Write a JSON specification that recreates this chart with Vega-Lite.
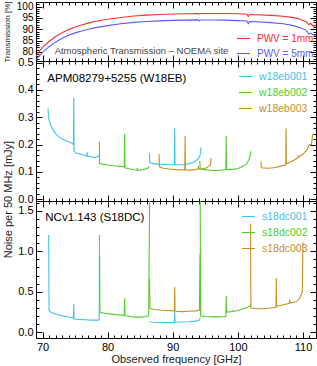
{
  "$schema": "https://vega.github.io/schema/vega-lite/v6.json",
  "padding": {"left": 1, "top": 0, "right": 0, "bottom": 0},
  "spacing": 0,
  "bounds": "flush",
  "config": {
    "font": "Liberation Sans",
    "view": {"stroke": "black", "strokeWidth": 1},
    "scale": {"zero": false},
    "axis": {"labelFont": "Liberation Sans", "labelColor": "black", "titleFont": "Liberation Sans", "titleFontWeight": "normal", "titleColor": "#222", "tickColor": "black", "labelOverlap": false, "labelBound": false, "labelFlush": false, "grid": false, "domain": false},
    "legend": {"symbolType": "stroke", "symbolStrokeWidth": 1.2, "symbolSize": 169, "labelFont": "Liberation Sans", "labelOffset": 6, "padding": 0, "rowPadding": 3, "title": null,
      "labelColor": {"expr": "indexof(['w18eb001','s18dc001'], datum.label) >= 0 ? '#3ec3ef' : indexof(['w18eb002','s18dc002'], datum.label) >= 0 ? '#4bd12a' : indexof(['w18eb003','s18dc003'], datum.label) >= 0 ? '#c8901f' : datum.label == 'PWV = 1mm' ? '#ff2d2d' : '#5a5aff'"}},
    "line": {"strokeWidth": 1.1, "clip": true}
  },
  "resolve": {"scale": {"x": "independent", "y": "independent", "color": "independent"}, "legend": {"color": "independent"}},
  "vconcat": [
    {
      "width": 280, "height": 59,
      "data": {"values": [
        {"f": 69.0, "v": 78.0, "s": "PWV = 1mm"}, {"f": 69.5, "v": 80.3, "s": "PWV = 1mm"}, {"f": 70, "v": 82.0, "s": "PWV = 1mm"}, {"f": 71, "v": 84.6, "s": "PWV = 1mm"}, {"f": 72, "v": 86.8, "s": "PWV = 1mm"}, {"f": 73, "v": 88.5, "s": "PWV = 1mm"}, {"f": 74, "v": 89.9, "s": "PWV = 1mm"}, {"f": 75, "v": 91.0, "s": "PWV = 1mm"}, {"f": 76, "v": 91.9, "s": "PWV = 1mm"}, {"f": 77, "v": 92.7, "s": "PWV = 1mm"}, {"f": 78, "v": 93.4, "s": "PWV = 1mm"}, {"f": 80, "v": 94.4, "s": "PWV = 1mm"}, {"f": 82, "v": 95.2, "s": "PWV = 1mm"}, {"f": 84, "v": 95.8, "s": "PWV = 1mm"}, {"f": 86, "v": 96.2, "s": "PWV = 1mm"}, {"f": 88, "v": 96.5, "s": "PWV = 1mm"}, {"f": 90, "v": 96.7, "s": "PWV = 1mm"}, {"f": 92, "v": 96.8, "s": "PWV = 1mm"}, {"f": 93.9, "v": 96.9, "s": "PWV = 1mm"}, {"f": 94.1, "v": 96.6, "s": "PWV = 1mm"}, {"f": 94.3, "v": 96.9, "s": "PWV = 1mm"}, {"f": 96, "v": 96.9, "s": "PWV = 1mm"}, {"f": 98, "v": 96.9, "s": "PWV = 1mm"}, {"f": 100, "v": 96.8, "s": "PWV = 1mm"}, {"f": 101.4, "v": 96.6, "s": "PWV = 1mm"}, {"f": 101.6, "v": 95.6, "s": "PWV = 1mm"}, {"f": 101.8, "v": 96.5, "s": "PWV = 1mm"}, {"f": 103, "v": 96.4, "s": "PWV = 1mm"}, {"f": 105, "v": 96.1, "s": "PWV = 1mm"}, {"f": 107, "v": 95.7, "s": "PWV = 1mm"}, {"f": 108.5, "v": 95.1, "s": "PWV = 1mm"}, {"f": 109.5, "v": 94.5, "s": "PWV = 1mm"}, {"f": 110.5, "v": 93.3, "s": "PWV = 1mm"}, {"f": 110.9, "v": 92.0, "s": "PWV = 1mm"}, {"f": 111.2, "v": 92.6, "s": "PWV = 1mm"}, {"f": 111.5, "v": 91.5, "s": "PWV = 1mm"}, {"f": 112, "v": 91.5, "s": "PWV = 1mm"},
        {"f": 69.0, "v": 76.5, "s": "PWV = 5mm"}, {"f": 69.5, "v": 78.3, "s": "PWV = 5mm"}, {"f": 70, "v": 79.8, "s": "PWV = 5mm"}, {"f": 71, "v": 82.3, "s": "PWV = 5mm"}, {"f": 72, "v": 84.3, "s": "PWV = 5mm"}, {"f": 73, "v": 86.0, "s": "PWV = 5mm"}, {"f": 74, "v": 87.3, "s": "PWV = 5mm"}, {"f": 75, "v": 88.4, "s": "PWV = 5mm"}, {"f": 76, "v": 89.2, "s": "PWV = 5mm"}, {"f": 77, "v": 90.0, "s": "PWV = 5mm"}, {"f": 78, "v": 90.6, "s": "PWV = 5mm"}, {"f": 80, "v": 91.6, "s": "PWV = 5mm"}, {"f": 82, "v": 92.4, "s": "PWV = 5mm"}, {"f": 84, "v": 93.0, "s": "PWV = 5mm"}, {"f": 86, "v": 93.4, "s": "PWV = 5mm"}, {"f": 88, "v": 93.7, "s": "PWV = 5mm"}, {"f": 90, "v": 93.9, "s": "PWV = 5mm"}, {"f": 92, "v": 94.0, "s": "PWV = 5mm"}, {"f": 93.9, "v": 94.1, "s": "PWV = 5mm"}, {"f": 94.1, "v": 93.7, "s": "PWV = 5mm"}, {"f": 94.3, "v": 94.1, "s": "PWV = 5mm"}, {"f": 96, "v": 94.1, "s": "PWV = 5mm"}, {"f": 98, "v": 94.0, "s": "PWV = 5mm"}, {"f": 100, "v": 93.8, "s": "PWV = 5mm"}, {"f": 101.4, "v": 93.6, "s": "PWV = 5mm"}, {"f": 101.6, "v": 92.5, "s": "PWV = 5mm"}, {"f": 101.8, "v": 93.4, "s": "PWV = 5mm"}, {"f": 103, "v": 93.3, "s": "PWV = 5mm"}, {"f": 105, "v": 92.9, "s": "PWV = 5mm"}, {"f": 107, "v": 92.4, "s": "PWV = 5mm"}, {"f": 108.5, "v": 91.6, "s": "PWV = 5mm"}, {"f": 109.5, "v": 90.8, "s": "PWV = 5mm"}, {"f": 110.5, "v": 89.5, "s": "PWV = 5mm"}, {"f": 110.9, "v": 87.8, "s": "PWV = 5mm"}, {"f": 111.2, "v": 88.3, "s": "PWV = 5mm"}, {"f": 111.5, "v": 87.6, "s": "PWV = 5mm"}, {"f": 112, "v": 87.3, "s": "PWV = 5mm"}
      ]},
      "resolve": {"axis": {"x": "independent", "y": "independent"}},
      "layer": [
        {"mark": {"type": "line"},
         "encoding": {
          "x": {"field": "f", "type": "quantitative", "scale": {"domain": [69, 112], "nice": false}, "axis": null},
          "y": {"field": "v", "type": "quantitative", "scale": {"domain": [76, 102], "nice": false}, "axis": {"values": [80, 85, 90, 95, 100], "ticks": false, "labelFontSize": 10, "labelPadding": 3, "title": "Transmission [%]", "titleFontSize": 8, "titleX": -25, "titleY": 29.5}},
          "color": {"field": "s", "type": "nominal", "scale": {"domain": ["PWV = 1mm", "PWV = 5mm"], "range": ["#ff2d2d", "#5a5aff"]}, "legend": {"orient": "bottom-right", "offset": 2, "labelFontSize": 10, "rowPadding": 2}}
         }},
        {"data": {"values": [{}]},
         "mark": {"type": "text", "align": "center", "baseline": "middle", "fontSize": 9.5, "color": "#444"},
         "encoding": {"x": {"datum": 85.2, "type": "quantitative", "axis": null}, "y": {"datum": 80.3, "type": "quantitative", "axis": null}, "text": {"value": "Atmospheric Transmission – NOEMA site"}}},
        {"mark": {"type": "point", "opacity": 0},
         "encoding": {"x": {"field": "f", "type": "quantitative", "axis": {"orient": "bottom", "values": [70, 80, 90, 100, 110], "labels": false, "tickSize": 6, "offset": -6, "title": null}},
                      "y": {"field": "v", "type": "quantitative", "axis": {"orient": "left", "values": [80, 85, 90, 95, 100], "labels": false, "tickSize": 6, "offset": -6, "title": null}}}},
        {"mark": {"type": "point", "opacity": 0},
         "encoding": {"x": {"field": "f", "type": "quantitative", "axis": {"orient": "top", "values": [70, 80, 90, 100, 110], "labels": false, "tickSize": 6, "offset": -6, "title": null}},
                      "y": {"field": "v", "type": "quantitative", "axis": {"orient": "right", "values": [80, 85, 90, 95, 100], "labels": false, "tickSize": 6, "offset": -6, "title": null}}}},
        {"mark": {"type": "point", "opacity": 0},
         "encoding": {"x": {"field": "f", "type": "quantitative", "axis": {"orient": "bottom", "values": [69,70,71,72,73,74,75,76,77,78,79,80,81,82,83,84,85,86,87,88,89,90,91,92,93,94,95,96,97,98,99,100,101,102,103,104,105,106,107,108,109,110,111,112], "labels": false, "tickSize": 3, "offset": -3, "title": null}},
                      "y": {"field": "v", "type": "quantitative", "axis": {"orient": "left", "values": [76,77,78,79,80,81,82,83,84,85,86,87,88,89,90,91,92,93,94,95,96,97,98,99,100,101,102], "labels": false, "tickSize": 3, "offset": -3, "title": null}}}},
        {"mark": {"type": "point", "opacity": 0},
         "encoding": {"x": {"field": "f", "type": "quantitative", "axis": {"orient": "top", "values": [69,70,71,72,73,74,75,76,77,78,79,80,81,82,83,84,85,86,87,88,89,90,91,92,93,94,95,96,97,98,99,100,101,102,103,104,105,106,107,108,109,110,111,112], "labels": false, "tickSize": 3, "offset": -3, "title": null}},
                      "y": {"field": "v", "type": "quantitative", "axis": {"orient": "right", "values": [76,77,78,79,80,81,82,83,84,85,86,87,88,89,90,91,92,93,94,95,96,97,98,99,100,101,102], "labels": false, "tickSize": 3, "offset": -3, "title": null}}}}
      ]
    },
    {
      "width": 280, "height": 140,
      "data": {"values": [
        {"f": 70.85, "v": 0.333, "s": "w18eb001", "g": "1a"}, {"f": 70.9, "v": 0.31, "s": "w18eb001", "g": "1a"}, {"f": 71.0, "v": 0.29, "s": "w18eb001", "g": "1a"}, {"f": 71.2, "v": 0.275, "s": "w18eb001", "g": "1a"}, {"f": 71.5, "v": 0.26, "s": "w18eb001", "g": "1a"}, {"f": 72.0, "v": 0.24, "s": "w18eb001", "g": "1a"}, {"f": 72.5, "v": 0.228, "s": "w18eb001", "g": "1a"}, {"f": 73.0, "v": 0.22, "s": "w18eb001", "g": "1a"}, {"f": 73.5, "v": 0.215, "s": "w18eb001", "g": "1a"}, {"f": 74.0, "v": 0.21, "s": "w18eb001", "g": "1a"}, {"f": 74.5, "v": 0.205, "s": "w18eb001", "g": "1a"}, {"f": 74.75, "v": 0.2, "s": "w18eb001", "g": "1a"}, {"f": 74.8, "v": 0.37, "s": "w18eb001", "g": "1a"}, {"f": 74.85, "v": 0.175, "s": "w18eb001", "g": "1a"}, {"f": 75.2, "v": 0.168, "s": "w18eb001", "g": "1a"}, {"f": 75.8, "v": 0.165, "s": "w18eb001", "g": "1a"}, {"f": 76.5, "v": 0.16, "s": "w18eb001", "g": "1a"}, {"f": 76.8, "v": 0.158, "s": "w18eb001", "g": "1a"}, {"f": 76.85, "v": 0.172, "s": "w18eb001", "g": "1a"}, {"f": 76.9, "v": 0.158, "s": "w18eb001", "g": "1a"}, {"f": 77.5, "v": 0.155, "s": "w18eb001", "g": "1a"}, {"f": 78.0, "v": 0.152, "s": "w18eb001", "g": "1a"}, {"f": 78.4, "v": 0.155, "s": "w18eb001", "g": "1a"}, {"f": 78.7, "v": 0.16, "s": "w18eb001", "g": "1a"},
        {"f": 78.72, "v": 0.21, "s": "w18eb002", "g": "2a"}, {"f": 78.77, "v": 0.13, "s": "w18eb002", "g": "2a"}, {"f": 79.2, "v": 0.128, "s": "w18eb002", "g": "2a"}, {"f": 80.0, "v": 0.125, "s": "w18eb002", "g": "2a"}, {"f": 81.0, "v": 0.122, "s": "w18eb002", "g": "2a"}, {"f": 82.0, "v": 0.12, "s": "w18eb002", "g": "2a"}, {"f": 82.55, "v": 0.118, "s": "w18eb002", "g": "2a"}, {"f": 82.6, "v": 0.238, "s": "w18eb002", "g": "2a"}, {"f": 82.65, "v": 0.115, "s": "w18eb002", "g": "2a"}, {"f": 83.5, "v": 0.11, "s": "w18eb002", "g": "2a"}, {"f": 84.5, "v": 0.105, "s": "w18eb002", "g": "2a"}, {"f": 84.55, "v": 0.115, "s": "w18eb002", "g": "2a"}, {"f": 84.6, "v": 0.105, "s": "w18eb002", "g": "2a"}, {"f": 85.5, "v": 0.108, "s": "w18eb002", "g": "2a"}, {"f": 86.3, "v": 0.115, "s": "w18eb002", "g": "2a"}, {"f": 86.4, "v": 0.12, "s": "w18eb002", "g": "2a"},
        {"f": 86.42, "v": 0.17, "s": "w18eb001", "g": "1b"}, {"f": 86.47, "v": 0.135, "s": "w18eb001", "g": "1b"}, {"f": 87.0, "v": 0.13, "s": "w18eb001", "g": "1b"}, {"f": 88.0, "v": 0.128, "s": "w18eb001", "g": "1b"}, {"f": 89.0, "v": 0.127, "s": "w18eb001", "g": "1b"}, {"f": 90.25, "v": 0.125, "s": "w18eb001", "g": "1b"}, {"f": 90.3, "v": 0.26, "s": "w18eb001", "g": "1b"}, {"f": 90.35, "v": 0.127, "s": "w18eb001", "g": "1b"}, {"f": 91.5, "v": 0.126, "s": "w18eb001", "g": "1b"}, {"f": 92.5, "v": 0.13, "s": "w18eb001", "g": "1b"}, {"f": 93.2, "v": 0.135, "s": "w18eb001", "g": "1b"}, {"f": 93.8, "v": 0.145, "s": "w18eb001", "g": "1b"}, {"f": 94.2, "v": 0.16, "s": "w18eb001", "g": "1b"}, {"f": 94.35, "v": 0.19, "s": "w18eb001", "g": "1b"},
        {"f": 87.9, "v": 0.165, "s": "w18eb003", "g": "3a"}, {"f": 87.95, "v": 0.118, "s": "w18eb003", "g": "3a"}, {"f": 88.5, "v": 0.113, "s": "w18eb003", "g": "3a"}, {"f": 89.5, "v": 0.11, "s": "w18eb003", "g": "3a"}, {"f": 90.5, "v": 0.108, "s": "w18eb003", "g": "3a"}, {"f": 91.85, "v": 0.107, "s": "w18eb003", "g": "3a"}, {"f": 91.9, "v": 0.232, "s": "w18eb003", "g": "3a"}, {"f": 91.95, "v": 0.107, "s": "w18eb003", "g": "3a"}, {"f": 92.5, "v": 0.106, "s": "w18eb003", "g": "3a"}, {"f": 93.5, "v": 0.108, "s": "w18eb003", "g": "3a"}, {"f": 93.9, "v": 0.11, "s": "w18eb003", "g": "3a"}, {"f": 93.95, "v": 0.122, "s": "w18eb003", "g": "3a"}, {"f": 94.0, "v": 0.11, "s": "w18eb003", "g": "3a"}, {"f": 94.5, "v": 0.11, "s": "w18eb003", "g": "3a"}, {"f": 95.2, "v": 0.115, "s": "w18eb003", "g": "3a"}, {"f": 95.5, "v": 0.12, "s": "w18eb003", "g": "3a"}, {"f": 95.8, "v": 0.125, "s": "w18eb003", "g": "3a"}, {"f": 95.9, "v": 0.15, "s": "w18eb003", "g": "3a"},
        {"f": 94.15, "v": 0.14, "s": "w18eb002", "g": "2b"}, {"f": 94.22, "v": 0.11, "s": "w18eb002", "g": "2b"}, {"f": 95.0, "v": 0.108, "s": "w18eb002", "g": "2b"}, {"f": 96.0, "v": 0.105, "s": "w18eb002", "g": "2b"}, {"f": 97.0, "v": 0.105, "s": "w18eb002", "g": "2b"}, {"f": 98.15, "v": 0.108, "s": "w18eb002", "g": "2b"}, {"f": 98.2, "v": 0.232, "s": "w18eb002", "g": "2b"}, {"f": 98.25, "v": 0.108, "s": "w18eb002", "g": "2b"}, {"f": 99.0, "v": 0.108, "s": "w18eb002", "g": "2b"}, {"f": 100.0, "v": 0.112, "s": "w18eb002", "g": "2b"}, {"f": 100.8, "v": 0.12, "s": "w18eb002", "g": "2b"}, {"f": 101.4, "v": 0.13, "s": "w18eb002", "g": "2b"}, {"f": 101.8, "v": 0.15, "s": "w18eb002", "g": "2b"}, {"f": 102.0, "v": 0.175, "s": "w18eb002", "g": "2b"},
        {"f": 103.55, "v": 0.138, "s": "w18eb003", "g": "3b"}, {"f": 103.6, "v": 0.115, "s": "w18eb003", "g": "3b"}, {"f": 104.5, "v": 0.113, "s": "w18eb003", "g": "3b"}, {"f": 105.5, "v": 0.115, "s": "w18eb003", "g": "3b"}, {"f": 106.5, "v": 0.12, "s": "w18eb003", "g": "3b"}, {"f": 107.35, "v": 0.125, "s": "w18eb003", "g": "3b"}, {"f": 107.4, "v": 0.259, "s": "w18eb003", "g": "3b"}, {"f": 107.45, "v": 0.13, "s": "w18eb003", "g": "3b"}, {"f": 108.0, "v": 0.135, "s": "w18eb003", "g": "3b"}, {"f": 108.8, "v": 0.145, "s": "w18eb003", "g": "3b"}, {"f": 109.3, "v": 0.153, "s": "w18eb003", "g": "3b"}, {"f": 109.35, "v": 0.16, "s": "w18eb003", "g": "3b"}, {"f": 109.4, "v": 0.155, "s": "w18eb003", "g": "3b"}, {"f": 110.0, "v": 0.165, "s": "w18eb003", "g": "3b"}, {"f": 110.6, "v": 0.18, "s": "w18eb003", "g": "3b"}, {"f": 111.0, "v": 0.2, "s": "w18eb003", "g": "3b"}, {"f": 111.3, "v": 0.2, "s": "w18eb003", "g": "3b"}, {"f": 111.5, "v": 0.238, "s": "w18eb003", "g": "3b"}
      ]},
      "resolve": {"axis": {"x": "independent", "y": "independent"}},
      "layer": [
        {"mark": {"type": "line"},
         "encoding": {
          "x": {"field": "f", "type": "quantitative", "scale": {"domain": [69, 112], "nice": false}, "axis": null},
          "y": {"field": "v", "type": "quantitative", "scale": {"domain": [-0.007, 0.506], "nice": false}, "axis": {"values": [0, 0.1, 0.2, 0.3, 0.4, 0.5], "format": ".1f", "ticks": false, "labelFontSize": 11, "labelPadding": 3, "title": "Noise per 50 MHz [mJy]", "titleFontSize": 11, "titleX": -23, "titleY": 138}},
          "color": {"field": "s", "type": "nominal", "scale": {"domain": ["w18eb001", "w18eb002", "w18eb003"], "range": ["#3ec3ef", "#4bd12a", "#c8901f"]}, "legend": {"orient": "top-right", "offset": 8, "labelFontSize": 10.5}},
          "detail": {"field": "g", "type": "nominal"}
         }},
        {"data": {"values": [{}]},
         "mark": {"type": "text", "align": "left", "baseline": "middle", "fontSize": 11.5, "color": "black"},
         "encoding": {"x": {"datum": 70.74, "type": "quantitative", "axis": null}, "y": {"datum": 0.44, "type": "quantitative", "axis": null}, "text": {"value": "APM08279+5255 (W18EB)"}}},
        {"mark": {"type": "point", "opacity": 0},
         "encoding": {"x": {"field": "f", "type": "quantitative", "axis": {"orient": "bottom", "values": [70, 80, 90, 100, 110], "labels": false, "tickSize": 6, "offset": -6, "title": null}},
                      "y": {"field": "v", "type": "quantitative", "axis": {"orient": "left", "values": [0, 0.1, 0.2, 0.3, 0.4, 0.5], "labels": false, "tickSize": 6, "offset": -6, "title": null}}}},
        {"mark": {"type": "point", "opacity": 0},
         "encoding": {"x": {"field": "f", "type": "quantitative", "axis": {"orient": "top", "values": [70, 80, 90, 100, 110], "labels": false, "tickSize": 6, "offset": -6, "title": null}},
                      "y": {"field": "v", "type": "quantitative", "axis": {"orient": "right", "values": [0, 0.1, 0.2, 0.3, 0.4, 0.5], "labels": false, "tickSize": 6, "offset": -6, "title": null}}}},
        {"mark": {"type": "point", "opacity": 0},
         "encoding": {"x": {"field": "f", "type": "quantitative", "axis": {"orient": "bottom", "values": [69,70,71,72,73,74,75,76,77,78,79,80,81,82,83,84,85,86,87,88,89,90,91,92,93,94,95,96,97,98,99,100,101,102,103,104,105,106,107,108,109,110,111,112], "labels": false, "tickSize": 3, "offset": -3, "title": null}},
                      "y": {"field": "v", "type": "quantitative", "axis": {"orient": "left", "values": [0,0.02,0.04,0.06,0.08,0.1,0.12,0.14,0.16,0.18,0.2,0.22,0.24,0.26,0.28,0.3,0.32,0.34,0.36,0.38,0.4,0.42,0.44,0.46,0.48,0.5], "labels": false, "tickSize": 3, "offset": -3, "title": null}}}},
        {"mark": {"type": "point", "opacity": 0},
         "encoding": {"x": {"field": "f", "type": "quantitative", "axis": {"orient": "top", "values": [69,70,71,72,73,74,75,76,77,78,79,80,81,82,83,84,85,86,87,88,89,90,91,92,93,94,95,96,97,98,99,100,101,102,103,104,105,106,107,108,109,110,111,112], "labels": false, "tickSize": 3, "offset": -3, "title": null}},
                      "y": {"field": "v", "type": "quantitative", "axis": {"orient": "right", "values": [0,0.02,0.04,0.06,0.08,0.1,0.12,0.14,0.16,0.18,0.2,0.22,0.24,0.26,0.28,0.3,0.32,0.34,0.36,0.38,0.4,0.42,0.44,0.46,0.48,0.5], "labels": false, "tickSize": 3, "offset": -3, "title": null}}}}
      ]
    },
    {
      "width": 280, "height": 137,
      "data": {"values": [
        {"f": 70.95, "v": 1.2, "s": "s18dc001", "g": "1a"}, {"f": 71.0, "v": 0.27, "s": "s18dc001", "g": "1a"}, {"f": 71.3, "v": 0.245, "s": "s18dc001", "g": "1a"}, {"f": 72.0, "v": 0.225, "s": "s18dc001", "g": "1a"}, {"f": 73.0, "v": 0.205, "s": "s18dc001", "g": "1a"}, {"f": 74.0, "v": 0.19, "s": "s18dc001", "g": "1a"}, {"f": 74.75, "v": 0.18, "s": "s18dc001", "g": "1a"}, {"f": 74.8, "v": 0.35, "s": "s18dc001", "g": "1a"}, {"f": 74.85, "v": 0.165, "s": "s18dc001", "g": "1a"}, {"f": 75.5, "v": 0.16, "s": "s18dc001", "g": "1a"}, {"f": 76.5, "v": 0.155, "s": "s18dc001", "g": "1a"}, {"f": 77.5, "v": 0.15, "s": "s18dc001", "g": "1a"}, {"f": 78.5, "v": 0.15, "s": "s18dc001", "g": "1a"}, {"f": 78.7, "v": 0.155, "s": "s18dc001", "g": "1a"}, {"f": 78.75, "v": 1.2, "s": "s18dc001", "g": "1a"},
        {"f": 78.77, "v": 0.95, "s": "s18dc002", "g": "2a"}, {"f": 78.82, "v": 0.25, "s": "s18dc002", "g": "2a"}, {"f": 79.5, "v": 0.235, "s": "s18dc002", "g": "2a"}, {"f": 80.5, "v": 0.225, "s": "s18dc002", "g": "2a"}, {"f": 81.5, "v": 0.215, "s": "s18dc002", "g": "2a"}, {"f": 82.55, "v": 0.21, "s": "s18dc002", "g": "2a"}, {"f": 82.6, "v": 0.42, "s": "s18dc002", "g": "2a"}, {"f": 82.65, "v": 0.205, "s": "s18dc002", "g": "2a"}, {"f": 83.5, "v": 0.195, "s": "s18dc002", "g": "2a"}, {"f": 84.5, "v": 0.185, "s": "s18dc002", "g": "2a"}, {"f": 85.5, "v": 0.19, "s": "s18dc002", "g": "2a"}, {"f": 86.3, "v": 0.205, "s": "s18dc002", "g": "2a"}, {"f": 86.45, "v": 1.62, "s": "s18dc002", "g": "2a"},
        {"f": 86.47, "v": 0.13, "s": "s18dc001", "g": "1b"}, {"f": 87.0, "v": 0.125, "s": "s18dc001", "g": "1b"}, {"f": 88.0, "v": 0.122, "s": "s18dc001", "g": "1b"}, {"f": 89.0, "v": 0.12, "s": "s18dc001", "g": "1b"}, {"f": 90.25, "v": 0.12, "s": "s18dc001", "g": "1b"}, {"f": 90.3, "v": 0.26, "s": "s18dc001", "g": "1b"}, {"f": 90.35, "v": 0.125, "s": "s18dc001", "g": "1b"}, {"f": 91.5, "v": 0.128, "s": "s18dc001", "g": "1b"}, {"f": 92.5, "v": 0.13, "s": "s18dc001", "g": "1b"}, {"f": 93.5, "v": 0.138, "s": "s18dc001", "g": "1b"}, {"f": 94.1, "v": 0.15, "s": "s18dc001", "g": "1b"}, {"f": 94.2, "v": 0.18, "s": "s18dc001", "g": "1b"},
        {"f": 86.44, "v": 0.66, "s": "s18dc003", "g": "3a"}, {"f": 86.5, "v": 0.3, "s": "s18dc003", "g": "3a"}, {"f": 87.0, "v": 0.285, "s": "s18dc003", "g": "3a"}, {"f": 88.0, "v": 0.275, "s": "s18dc003", "g": "3a"}, {"f": 89.0, "v": 0.27, "s": "s18dc003", "g": "3a"}, {"f": 90.25, "v": 0.265, "s": "s18dc003", "g": "3a"}, {"f": 90.3, "v": 0.56, "s": "s18dc003", "g": "3a"}, {"f": 90.35, "v": 0.26, "s": "s18dc003", "g": "3a"}, {"f": 91.5, "v": 0.255, "s": "s18dc003", "g": "3a"}, {"f": 92.5, "v": 0.26, "s": "s18dc003", "g": "3a"}, {"f": 93.5, "v": 0.265, "s": "s18dc003", "g": "3a"}, {"f": 94.1, "v": 0.275, "s": "s18dc003", "g": "3a"}, {"f": 94.2, "v": 0.97, "s": "s18dc003", "g": "3a"},
        {"f": 94.22, "v": 1.62, "s": "s18dc002", "g": "2b"}, {"f": 94.27, "v": 0.2, "s": "s18dc002", "g": "2b"}, {"f": 95.0, "v": 0.195, "s": "s18dc002", "g": "2b"}, {"f": 96.0, "v": 0.19, "s": "s18dc002", "g": "2b"}, {"f": 97.0, "v": 0.19, "s": "s18dc002", "g": "2b"}, {"f": 98.15, "v": 0.195, "s": "s18dc002", "g": "2b"}, {"f": 98.2, "v": 0.45, "s": "s18dc002", "g": "2b"}, {"f": 98.25, "v": 0.25, "s": "s18dc002", "g": "2b"}, {"f": 99.0, "v": 0.255, "s": "s18dc002", "g": "2b"}, {"f": 100.0, "v": 0.27, "s": "s18dc002", "g": "2b"}, {"f": 100.8, "v": 0.29, "s": "s18dc002", "g": "2b"}, {"f": 101.5, "v": 0.31, "s": "s18dc002", "g": "2b"}, {"f": 101.9, "v": 0.33, "s": "s18dc002", "g": "2b"}, {"f": 102.0, "v": 0.35, "s": "s18dc002", "g": "2b"},
        {"f": 101.95, "v": 1.34, "s": "s18dc003", "g": "3b"}, {"f": 102.0, "v": 0.3, "s": "s18dc003", "g": "3b"}, {"f": 103.0, "v": 0.29, "s": "s18dc003", "g": "3b"}, {"f": 104.0, "v": 0.29, "s": "s18dc003", "g": "3b"}, {"f": 105.0, "v": 0.3, "s": "s18dc003", "g": "3b"}, {"f": 105.85, "v": 0.31, "s": "s18dc003", "g": "3b"}, {"f": 105.9, "v": 0.67, "s": "s18dc003", "g": "3b"}, {"f": 105.95, "v": 0.32, "s": "s18dc003", "g": "3b"}, {"f": 106.5, "v": 0.33, "s": "s18dc003", "g": "3b"}, {"f": 107.5, "v": 0.35, "s": "s18dc003", "g": "3b"}, {"f": 107.9, "v": 0.36, "s": "s18dc003", "g": "3b"}, {"f": 107.95, "v": 0.4, "s": "s18dc003", "g": "3b"}, {"f": 108.0, "v": 0.36, "s": "s18dc003", "g": "3b"}, {"f": 109.0, "v": 0.38, "s": "s18dc003", "g": "3b"}, {"f": 109.5, "v": 0.42, "s": "s18dc003", "g": "3b"}, {"f": 109.9, "v": 0.5, "s": "s18dc003", "g": "3b"}, {"f": 110.0, "v": 1.11, "s": "s18dc003", "g": "3b"}
      ]},
      "resolve": {"axis": {"x": "independent", "y": "independent"}},
      "layer": [
        {"mark": {"type": "line"},
         "encoding": {
          "x": {"field": "f", "type": "quantitative", "scale": {"domain": [69, 112], "nice": false}, "axis": {"values": [70, 80, 90, 100, 110], "ticks": false, "labelFontSize": 11, "labelPadding": 3, "title": "Observed frequency [GHz]", "titleFontSize": 11, "titlePadding": 1}},
          "y": {"field": "v", "type": "quantitative", "scale": {"domain": [-0.07, 1.62], "nice": false}, "axis": {"values": [0, 0.5, 1.0, 1.5], "format": ".1f", "ticks": false, "labelFontSize": 11, "labelPadding": 3, "title": null}},
          "color": {"field": "s", "type": "nominal", "scale": {"domain": ["s18dc001", "s18dc002", "s18dc003"], "range": ["#3ec3ef", "#4bd12a", "#c8901f"]}, "legend": {"orient": "top-right", "offset": 8, "labelFontSize": 10.5}},
          "detail": {"field": "g", "type": "nominal"}
         }},
        {"data": {"values": [{}]},
         "mark": {"type": "text", "align": "left", "baseline": "middle", "fontSize": 11.5, "color": "black"},
         "encoding": {"x": {"datum": 70.43, "type": "quantitative", "axis": null}, "y": {"datum": 1.41, "type": "quantitative", "axis": null}, "text": {"value": "NCv1.143 (S18DC)"}}},
        {"mark": {"type": "point", "opacity": 0},
         "encoding": {"x": {"field": "f", "type": "quantitative", "axis": {"orient": "bottom", "values": [70, 80, 90, 100, 110], "labels": false, "tickSize": 6, "offset": -6, "title": null}},
                      "y": {"field": "v", "type": "quantitative", "axis": {"orient": "left", "values": [0, 0.5, 1.0, 1.5], "labels": false, "tickSize": 6, "offset": -6, "title": null}}}},
        {"mark": {"type": "point", "opacity": 0},
         "encoding": {"x": {"field": "f", "type": "quantitative", "axis": {"orient": "top", "values": [70, 80, 90, 100, 110], "labels": false, "tickSize": 6, "offset": -6, "title": null}},
                      "y": {"field": "v", "type": "quantitative", "axis": {"orient": "right", "values": [0, 0.5, 1.0, 1.5], "labels": false, "tickSize": 6, "offset": -6, "title": null}}}},
        {"mark": {"type": "point", "opacity": 0},
         "encoding": {"x": {"field": "f", "type": "quantitative", "axis": {"orient": "bottom", "values": [69,70,71,72,73,74,75,76,77,78,79,80,81,82,83,84,85,86,87,88,89,90,91,92,93,94,95,96,97,98,99,100,101,102,103,104,105,106,107,108,109,110,111,112], "labels": false, "tickSize": 3, "offset": -3, "title": null}},
                      "y": {"field": "v", "type": "quantitative", "axis": {"orient": "left", "values": [0,0.1,0.2,0.3,0.4,0.5,0.6,0.7,0.8,0.9,1.0,1.1,1.2,1.3,1.4,1.5,1.6], "labels": false, "tickSize": 3, "offset": -3, "title": null}}}},
        {"mark": {"type": "point", "opacity": 0},
         "encoding": {"x": {"field": "f", "type": "quantitative", "axis": {"orient": "top", "values": [69,70,71,72,73,74,75,76,77,78,79,80,81,82,83,84,85,86,87,88,89,90,91,92,93,94,95,96,97,98,99,100,101,102,103,104,105,106,107,108,109,110,111,112], "labels": false, "tickSize": 3, "offset": -3, "title": null}},
                      "y": {"field": "v", "type": "quantitative", "axis": {"orient": "right", "values": [0,0.1,0.2,0.3,0.4,0.5,0.6,0.7,0.8,0.9,1.0,1.1,1.2,1.3,1.4,1.5,1.6], "labels": false, "tickSize": 3, "offset": -3, "title": null}}}}
      ]
    }
  ]
}
